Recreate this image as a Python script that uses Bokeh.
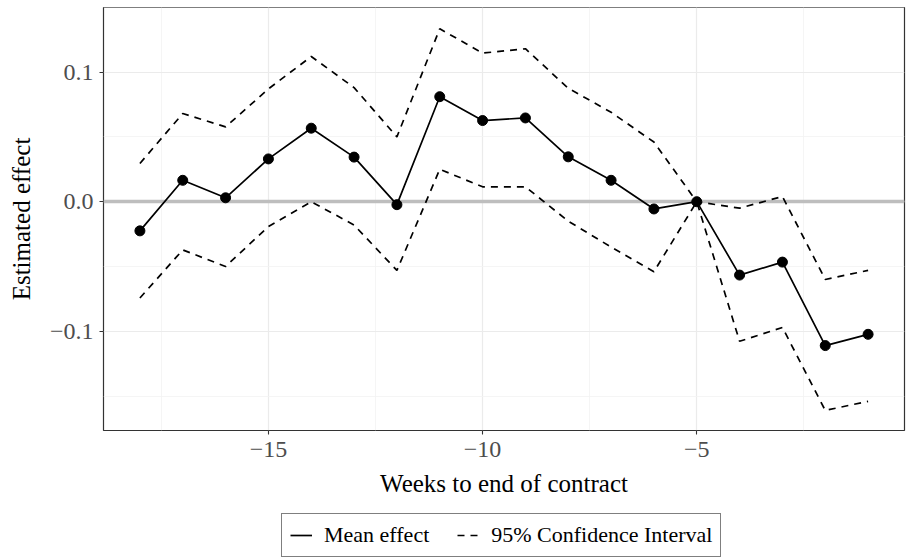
from bokeh.plotting import figure
from bokeh.layouts import column
from bokeh.models import Range1d, FixedTicker, CustomJSTickFormatter, Legend, LegendItem
from bokeh.embed import file_html
from bokeh.resources import INLINE

weeks = [-18, -17, -16, -15, -14, -13, -12, -11, -10, -9, -8, -7, -6, -5, -4, -3, -2, -1]
mean_effect = [-0.0225, 0.0165, 0.003, 0.033, 0.0567, 0.0344, -0.0023, 0.081, 0.0626,
               0.0646, 0.0346, 0.0165, -0.0056, 0.0, -0.0566, -0.0466, -0.111, -0.1023]
ci_upper = [0.0295, 0.068, 0.0577, 0.087, 0.112, 0.088, 0.05, 0.1334, 0.1146,
            0.118, 0.0875, 0.069, 0.046, 0.0, -0.005, 0.004, -0.060, -0.053]
ci_lower = [-0.0743, -0.0372, -0.05, -0.0192, 0.0, -0.018, -0.053, 0.025, 0.0115,
            0.0115, -0.015, -0.035, -0.054, 0.0, -0.1077, -0.097, -0.161, -0.154]
zero_line = [0.0]
x_major = [-15, -10, -5]
x_minor = [-17.5, -12.5, -7.5, -2.5]
y_major = [-0.1, 0.0, 0.1]
y_minor = [-0.15, -0.05, 0.05, 0.15]
legend_labels = ["Mean effect", "95% Confidence Interval"]

SERIF = "Liberation Serif"
LW = 1.7
DASH = "7 6"

p = figure(frame_width=801, frame_height=423, output_backend="svg", toolbar_location=None,
           x_range=Range1d(-18.85, -0.15), y_range=Range1d(-0.1765, 0.1498),
           min_border_left=103, min_border_right=3, min_border_top=7, min_border_bottom=83,
           background_fill_color="white", border_fill_color="white")

p.hspan(y=zero_line, line_color="#BEBEBE", line_width=3.5)

p.line(weeks, mean_effect, line_color="black", line_width=LW)
p.scatter(weeks, mean_effect, size=10, color="black")
p.line(weeks, ci_upper, line_color="black", line_width=LW, line_dash=DASH)
p.line(weeks, ci_lower, line_color="black", line_width=LW, line_dash=DASH)

p.xaxis.ticker = FixedTicker(ticks=x_major, minor_ticks=x_minor)
p.yaxis.ticker = FixedTicker(ticks=y_major, minor_ticks=y_minor)
p.xaxis.formatter = CustomJSTickFormatter(code="return tick.toFixed(0).replace('-', '\\u2212');")
p.yaxis.formatter = CustomJSTickFormatter(code="return tick.toFixed(1).replace('-', '\\u2212');")

for ax in (p.xaxis, p.yaxis):
    ax.axis_line_color = None
    ax.major_tick_line_color = "#333333"
    ax.major_tick_line_width = 1.1
    ax.major_tick_out = 4
    ax.major_tick_in = 0
    ax.minor_tick_line_color = None
    ax.major_label_text_font = SERIF
    ax.major_label_text_font_size = "24px"
    ax.major_label_text_color = "#4D4D4D"
    ax.axis_label_text_font = SERIF
    ax.axis_label_text_font_size = "25px"
    ax.axis_label_text_font_style = "normal"
    ax.axis_label_text_color = "black"

p.xaxis.axis_label = "Weeks to end of contract"
p.yaxis.axis_label = "Estimated effect"
p.xaxis.major_label_standoff = 7
p.yaxis.major_label_standoff = 6
p.xaxis.axis_label_standoff = 10
p.yaxis.axis_label_standoff = 12

for g in (p.xgrid, p.ygrid):
    g.grid_line_color = "#EBEBEB"
    g.grid_line_width = 1.2
    g.minor_grid_line_color = "#F2F2F2"
    g.minor_grid_line_width = 0.8

p.outline_line_color = "#333333"
p.outline_line_width = 1.2

# legend strip below the plot; its lines use the same data but lie outside this strip's ranges
lg = figure(frame_width=907, frame_height=45, output_backend="svg", toolbar_location=None,
            x_range=Range1d(100, 101), y_range=Range1d(100, 101),
            min_border=0, x_axis_type=None, y_axis_type=None,
            background_fill_color="white", border_fill_color="white")
lg.outline_line_color = None
lg.xgrid.visible = False
lg.ygrid.visible = False
r_a = lg.line(weeks, mean_effect, line_color="black", line_width=LW)
r_b = lg.line(weeks, ci_upper, line_color="black", line_width=LW, line_dash=DASH)
legend = Legend(items=[LegendItem(label=legend_labels[0], renderers=[r_a]),
                       LegendItem(label=legend_labels[1], renderers=[r_b])],
                orientation="horizontal", location=(281, 1),
                label_text_font=SERIF, label_text_font_size="22px", label_text_color="black",
                glyph_width=22, glyph_height=20, label_height=26, label_standoff=12, spacing=28,
                padding=8, margin=0, border_line_color="black", border_line_width=1.2,
                background_fill_alpha=1)
lg.add_layout(legend, "center")

layout = column(p, lg, spacing=0)
open("out.html", "w").write(file_html(layout, INLINE))
